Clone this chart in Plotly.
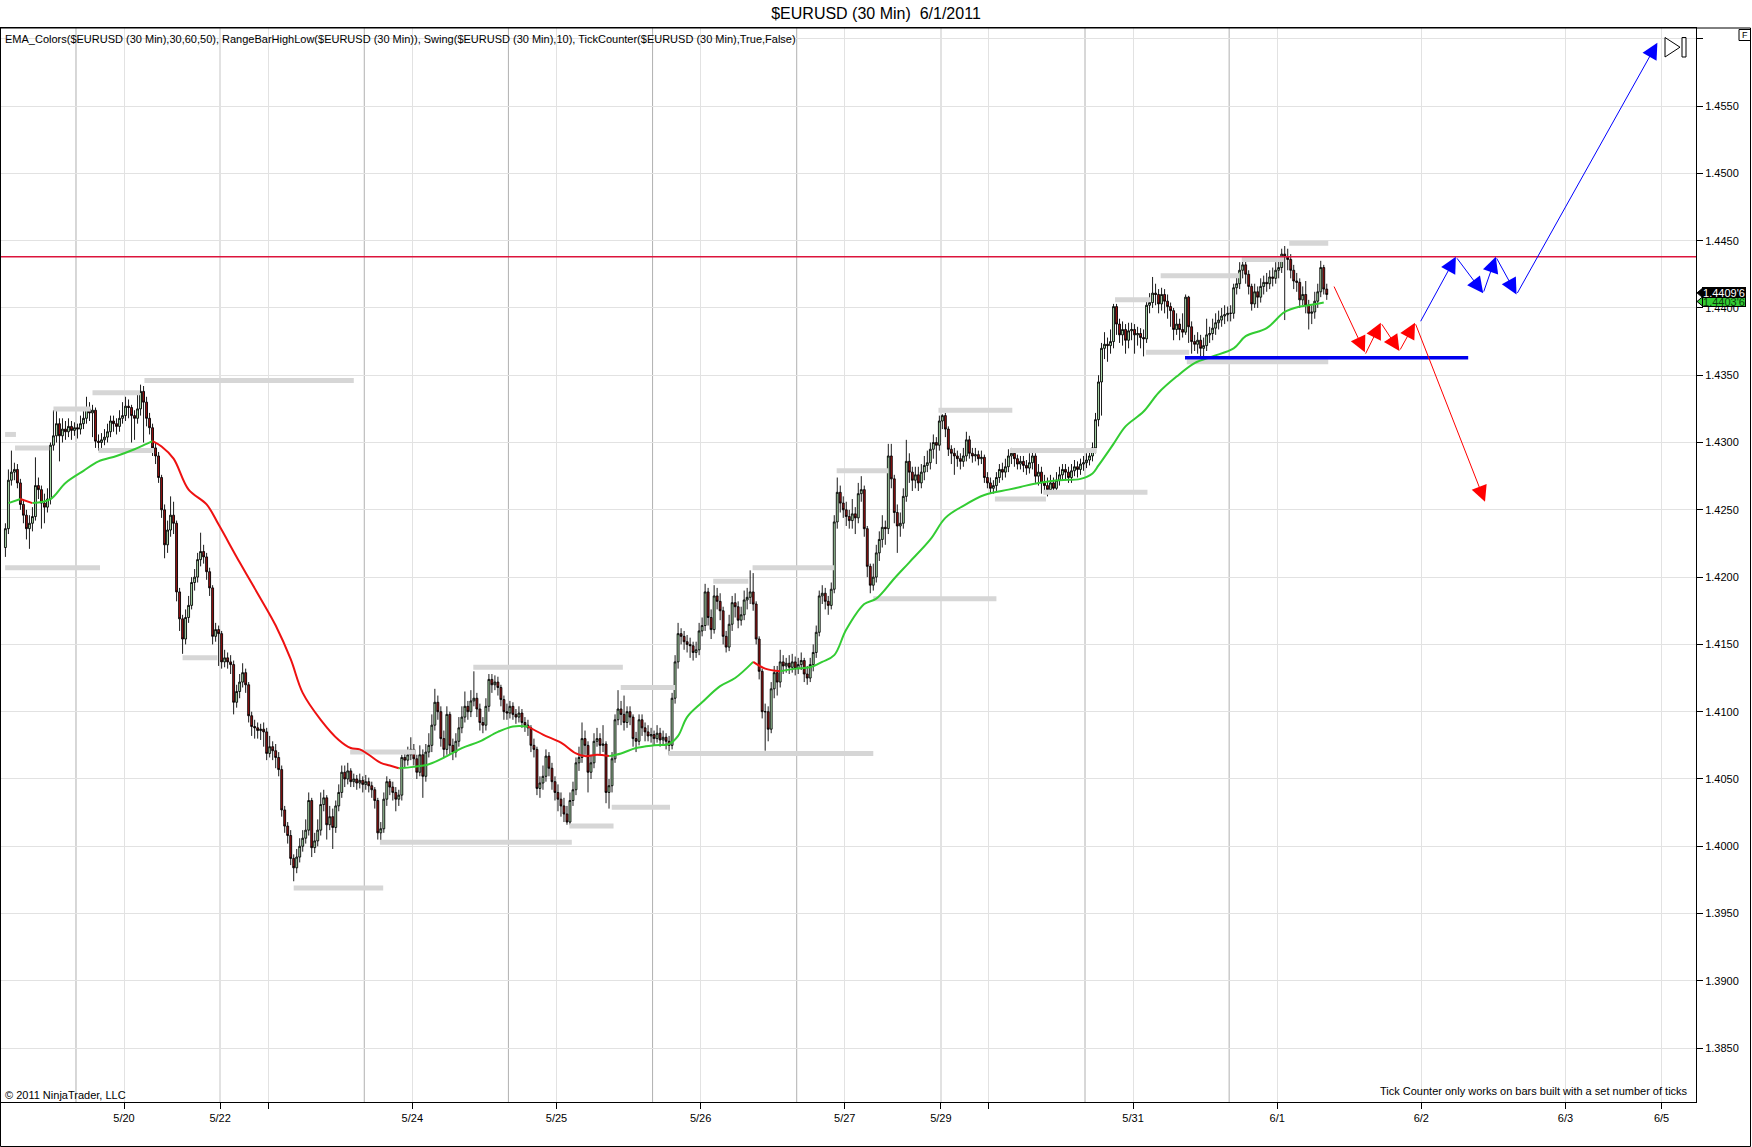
import plotly.graph_objects as go

W, H = 1752, 1147
ML, MR, MT, MB = 1, 56, 28, 45
PW, PH = W - ML - MR, H - MT - MB
FONT = 'Arial, Liberation Sans, sans-serif'


def px(x):
    # page pixel -> paper x
    return (x - ML) / PW


def py(y):
    # page pixel -> paper y
    return (H - MB - y) / PH


# 30 minute bars, bar 0 = 5/19 05:00, weekends removed (NinjaTrader bar spacing)
first_open = 1.4222
closes = [
    1.4236, 1.4272, 1.4278, 1.4280, 1.4270, 1.4254, 1.4246, 1.4236, 1.4240, 1.4245, 1.4268, 1.4265,
    1.4255, 1.4252, 1.4258, 1.4298, 1.4305, 1.4314, 1.4305, 1.4310, 1.4308, 1.4312, 1.4309, 1.4311,
    1.4310, 1.4314, 1.4318, 1.4325, 1.4322, 1.4324, 1.4301, 1.4300, 1.4302, 1.4304, 1.4308, 1.4316,
    1.4314, 1.4312, 1.4318, 1.4320, 1.4327, 1.4326, 1.4320, 1.4318, 1.4325, 1.4338, 1.4330, 1.4318,
    1.4311, 1.4296, 1.4290, 1.4274, 1.4250, 1.4224, 1.4235, 1.4246, 1.4240, 1.4189, 1.4169, 1.4154,
    1.4170, 1.4179, 1.4196, 1.4200, 1.4213, 1.4219, 1.4215, 1.4204, 1.4192, 1.4156, 1.4161, 1.4158,
    1.4137, 1.4140, 1.4137, 1.4135, 1.4107, 1.4115, 1.4122, 1.4129, 1.4120, 1.4097, 1.4089, 1.4088,
    1.4086, 1.4087, 1.4085, 1.4069, 1.4074, 1.4071, 1.4066, 1.4057, 1.4027, 1.4015, 1.4008, 1.3991,
    1.3984, 1.3992, 1.4000, 1.4006, 1.4012, 1.4034, 1.3999, 1.4004, 1.4012, 1.4031, 1.4036, 1.4016,
    1.4022, 1.4014, 1.4030, 1.4040, 1.4055, 1.4050, 1.4056, 1.4048, 1.4050, 1.4047, 1.4049, 1.4046,
    1.4048, 1.4045, 1.4042, 1.4034, 1.4010, 1.4013, 1.4035, 1.4048, 1.4044, 1.4040, 1.4035, 1.4038,
    1.4066, 1.4064, 1.4068, 1.4072, 1.4065, 1.4055, 1.4068, 1.4052, 1.4070, 1.4075, 1.4090, 1.4107,
    1.4100, 1.4080, 1.4072, 1.4098, 1.4075, 1.4070, 1.4078, 1.4088, 1.4096, 1.4104, 1.4100, 1.4108,
    1.4110, 1.4102, 1.4092, 1.4090, 1.4104, 1.4124, 1.4120, 1.4122, 1.4118, 1.4109, 1.4100, 1.4099,
    1.4104, 1.4098, 1.4096, 1.4099, 1.4092, 1.4090, 1.4088, 1.4075, 1.4072, 1.4043, 1.4047, 1.4052,
    1.4067, 1.4058, 1.4048, 1.4040, 1.4035, 1.4030, 1.4024, 1.4018, 1.4034, 1.4042, 1.4062, 1.4066,
    1.4080, 1.4075, 1.4055, 1.4062, 1.4078, 1.4080, 1.4075, 1.4076, 1.4040, 1.4045, 1.4065, 1.4094,
    1.4102, 1.4098, 1.4092, 1.4100, 1.4096, 1.4080, 1.4078, 1.4094, 1.4088, 1.4085, 1.4082, 1.4083,
    1.4080, 1.4084, 1.4079, 1.4081, 1.4078, 1.4075, 1.4110, 1.4137, 1.4158, 1.4156, 1.4152, 1.4150,
    1.4149, 1.4144, 1.4146, 1.4160, 1.4164, 1.4189, 1.4170, 1.4161, 1.4186, 1.4182, 1.4175, 1.4156,
    1.4148, 1.4165, 1.4181, 1.4178, 1.4168, 1.4172, 1.4183, 1.4185, 1.4189, 1.4180, 1.4154, 1.4130,
    1.4100, 1.4100, 1.4087, 1.4117, 1.4129, 1.4122, 1.4137, 1.4134, 1.4136, 1.4133, 1.4137, 1.4132,
    1.4135, 1.4138, 1.4128, 1.4125, 1.4135, 1.4144, 1.4159, 1.4186, 1.4188, 1.4182, 1.4179, 1.4191,
    1.4241, 1.4263, 1.4255, 1.4250, 1.4245, 1.4242, 1.4247, 1.4244, 1.4262, 1.4265, 1.4236, 1.4208,
    1.4194, 1.4200, 1.4218, 1.4228, 1.4237, 1.4236, 1.4290, 1.4273, 1.4248, 1.4238, 1.4240, 1.4260,
    1.4286, 1.4278, 1.4272, 1.4276, 1.4270, 1.4278, 1.4283, 1.4285, 1.4295, 1.4300, 1.4298, 1.4316,
    1.4320, 1.4310, 1.4295, 1.4292, 1.4290, 1.4288, 1.4286, 1.4290, 1.4302, 1.4292, 1.4290, 1.4291,
    1.4288, 1.4289, 1.4274, 1.4270, 1.4266, 1.4268, 1.4274, 1.4280, 1.4278, 1.4282, 1.4290, 1.4292,
    1.4288, 1.4284, 1.4286, 1.4283, 1.4281, 1.4285, 1.4290, 1.4275, 1.4278, 1.4270, 1.4268, 1.4265,
    1.4270, 1.4266, 1.4272, 1.4276, 1.4280, 1.4278, 1.4274, 1.4279, 1.4282, 1.4280, 1.4284, 1.4285,
    1.4287, 1.4290, 1.4296, 1.4317, 1.4345, 1.4370, 1.4373, 1.4372, 1.4375, 1.4401, 1.4388, 1.4380,
    1.4384, 1.4376, 1.4383, 1.4384, 1.4380, 1.4381, 1.4378, 1.4377, 1.4402, 1.4404, 1.4411, 1.4410,
    1.4403, 1.4410, 1.4405, 1.4401, 1.4398, 1.4384, 1.4388, 1.4384, 1.4382, 1.4408, 1.4386, 1.4375,
    1.4373, 1.4376, 1.4370, 1.4372, 1.4380, 1.4381, 1.4385, 1.4389, 1.4391, 1.4394, 1.4395, 1.4396,
    1.4396, 1.4415, 1.4418, 1.4428, 1.4432, 1.4425, 1.4416, 1.4403, 1.4412, 1.4408, 1.4416, 1.4419,
    1.4418, 1.4423, 1.4422, 1.4428, 1.4430, 1.4440, 1.4438, 1.4436, 1.4428, 1.4420, 1.4419, 1.4406,
    1.4410, 1.4402, 1.4396, 1.4397, 1.4405, 1.4412, 1.4430, 1.4414, 1.4410,
]
highs = [
    1.4240, 1.4280, 1.4294, 1.4285, 1.4284, 1.4273, 1.4258, 1.4250, 1.4246, 1.4252, 1.4289, 1.4274,
    1.4268, 1.4262, 1.4266, 1.4300, 1.4324, 1.4324, 1.4318, 1.4318, 1.4316, 1.4318, 1.4316, 1.4315,
    1.4314, 1.4320, 1.4324, 1.4334, 1.4330, 1.4328, 1.4326, 1.4306, 1.4307, 1.4310, 1.4314, 1.4320,
    1.4320, 1.4318, 1.4324, 1.4330, 1.4334, 1.4332, 1.4328, 1.4324, 1.4336, 1.4343, 1.4342, 1.4334,
    1.4322, 1.4314, 1.4300, 1.4293, 1.4276, 1.4254, 1.4242, 1.4260, 1.4256, 1.4242, 1.4192, 1.4172,
    1.4176, 1.4186, 1.4200, 1.4206, 1.4218, 1.4233, 1.4224, 1.4218, 1.4207, 1.4194, 1.4166, 1.4164,
    1.4160, 1.4146, 1.4144, 1.4142, 1.4138, 1.4120, 1.4128, 1.4136, 1.4132, 1.4122, 1.4100, 1.4094,
    1.4092, 1.4091, 1.4092, 1.4088, 1.4082, 1.4078, 1.4076, 1.4070, 1.4060, 1.4030, 1.4018, 1.4012,
    1.3994, 1.3998, 1.4006, 1.4012, 1.4020, 1.4040, 1.4036, 1.4010, 1.4020, 1.4040, 1.4042, 1.4038,
    1.4030, 1.4028, 1.4034, 1.4046, 1.4060, 1.4060, 1.4062, 1.4058, 1.4054, 1.4053, 1.4054, 1.4052,
    1.4053, 1.4051, 1.4048, 1.4044, 1.4036, 1.4018, 1.4040, 1.4052, 1.4050, 1.4048, 1.4044, 1.4042,
    1.4068, 1.4070, 1.4074, 1.4081, 1.4076, 1.4068, 1.4075, 1.4072, 1.4076, 1.4084, 1.4098, 1.4117,
    1.4112, 1.4104, 1.4086, 1.4104, 1.4100, 1.4080, 1.4084, 1.4096, 1.4104, 1.4115, 1.4108, 1.4116,
    1.4130, 1.4114, 1.4106, 1.4096, 1.4110, 1.4128, 1.4128, 1.4127, 1.4126, 1.4120, 1.4112, 1.4106,
    1.4108, 1.4107, 1.4102, 1.4104, 1.4102, 1.4096, 1.4094, 1.4090, 1.4080, 1.4074, 1.4052, 1.4060,
    1.4072, 1.4070, 1.4062, 1.4052, 1.4046, 1.4040, 1.4036, 1.4030, 1.4040, 1.4048, 1.4066, 1.4074,
    1.4092, 1.4086, 1.4078, 1.4068, 1.4084, 1.4088, 1.4084, 1.4090, 1.4078, 1.4050, 1.4070, 1.4098,
    1.4116, 1.4108, 1.4112, 1.4104, 1.4104, 1.4098, 1.4085, 1.4098, 1.4098, 1.4092, 1.4090, 1.4088,
    1.4086, 1.4090, 1.4088, 1.4086, 1.4084, 1.4082, 1.4114, 1.4142, 1.4166, 1.4162, 1.4160, 1.4157,
    1.4155, 1.4152, 1.4152, 1.4166, 1.4170, 1.4195, 1.4192, 1.4176, 1.4194, 1.4192, 1.4188, 1.4178,
    1.4160, 1.4172, 1.4186, 1.4188, 1.4182, 1.4178, 1.4190, 1.4192, 1.4205, 1.4203, 1.4182, 1.4156,
    1.4132, 1.4106, 1.4104, 1.4122, 1.4134, 1.4134, 1.4146, 1.4142, 1.4140, 1.4142, 1.4143, 1.4141,
    1.4140, 1.4144, 1.4140, 1.4134, 1.4140, 1.4150, 1.4164, 1.4190, 1.4194, 1.4192, 1.4186, 1.4196,
    1.4246, 1.4274, 1.4268, 1.4260, 1.4256, 1.4250, 1.4258, 1.4252, 1.4270, 1.4275, 1.4268, 1.4238,
    1.4210, 1.4210, 1.4224, 1.4234, 1.4246, 1.4242, 1.4299, 1.4299, 1.4276, 1.4254, 1.4248, 1.4266,
    1.4302, 1.4292, 1.4282, 1.4282, 1.4282, 1.4284, 1.4290, 1.4294, 1.4300, 1.4306, 1.4304, 1.4320,
    1.4321, 1.4322, 1.4312, 1.4298, 1.4296, 1.4294, 1.4292, 1.4296, 1.4308, 1.4305, 1.4296, 1.4296,
    1.4294, 1.4294, 1.4291, 1.4278, 1.4274, 1.4272, 1.4278, 1.4284, 1.4285, 1.4288, 1.4295, 1.4296,
    1.4294, 1.4291, 1.4290, 1.4290, 1.4287, 1.4292, 1.4294, 1.4292, 1.4284, 1.4282, 1.4276, 1.4274,
    1.4276, 1.4274, 1.4278, 1.4282, 1.4284, 1.4284, 1.4282, 1.4284, 1.4287, 1.4286, 1.4288, 1.4290,
    1.4292, 1.4294, 1.4300, 1.4322, 1.4350, 1.4374, 1.4382, 1.4378, 1.4384, 1.4403, 1.4403, 1.4392,
    1.4390, 1.4388, 1.4389, 1.4389, 1.4388, 1.4386, 1.4385, 1.4384, 1.4406, 1.4411, 1.4423, 1.4418,
    1.4414, 1.4415, 1.4414, 1.4410, 1.4404, 1.4400, 1.4396, 1.4392, 1.4396, 1.4410, 1.4409, 1.4390,
    1.4380, 1.4382, 1.4380, 1.4378, 1.4392, 1.4386, 1.4392, 1.4396, 1.4398, 1.4400, 1.4402, 1.4401,
    1.4402, 1.4418, 1.4424, 1.4434, 1.4436, 1.4436, 1.4428, 1.4418, 1.4418, 1.4416, 1.4422, 1.4424,
    1.4426, 1.4428, 1.4430, 1.4434, 1.4436, 1.4444, 1.4446, 1.4444, 1.4440, 1.4432, 1.4426, 1.4422,
    1.4416, 1.4420, 1.4406, 1.4402, 1.4412, 1.4418, 1.4435, 1.4432, 1.4418,
]
lows = [
    1.4215, 1.4232, 1.4268, 1.4272, 1.4266, 1.4250, 1.4240, 1.4228, 1.4221, 1.4234, 1.4242, 1.4258,
    1.4236, 1.4240, 1.4248, 1.4254, 1.4294, 1.4300, 1.4286, 1.4300, 1.4302, 1.4304, 1.4302, 1.4305,
    1.4303, 1.4306, 1.4310, 1.4314, 1.4316, 1.4304, 1.4296, 1.4294, 1.4296, 1.4298, 1.4300, 1.4304,
    1.4308, 1.4306, 1.4308, 1.4314, 1.4316, 1.4318, 1.4300, 1.4302, 1.4314, 1.4320, 1.4300, 1.4312,
    1.4306, 1.4290, 1.4284, 1.4270, 1.4244, 1.4214, 1.4218, 1.4230, 1.4232, 1.4182, 1.4160, 1.4143,
    1.4150, 1.4166, 1.4176, 1.4190, 1.4196, 1.4208, 1.4210, 1.4198, 1.4186, 1.4150, 1.4152, 1.4134,
    1.4132, 1.4133, 1.4132, 1.4128, 1.4098, 1.4103, 1.4110, 1.4118, 1.4114, 1.4092, 1.4082, 1.4080,
    1.4080, 1.4079, 1.4074, 1.4064, 1.4066, 1.4064, 1.4058, 1.4052, 1.4022, 1.4010, 1.4002, 1.3986,
    1.3974, 1.3980, 1.3988, 1.3996, 1.4002, 1.4008, 1.3992, 1.3995, 1.4000, 1.4008, 1.4026, 1.4005,
    1.4012, 1.3998, 1.4010, 1.4026, 1.4036, 1.4044, 1.4046, 1.4044, 1.4044, 1.4042, 1.4043, 1.4040,
    1.4042, 1.4040, 1.4036, 1.4028, 1.4005, 1.4004, 1.4010, 1.4030, 1.4038, 1.4034, 1.4026, 1.4030,
    1.4034, 1.4058, 1.4060, 1.4064, 1.4060, 1.4050, 1.4052, 1.4036, 1.4048, 1.4066, 1.4070, 1.4086,
    1.4094, 1.4074, 1.4066, 1.4068, 1.4068, 1.4064, 1.4066, 1.4074, 1.4084, 1.4092, 1.4094, 1.4096,
    1.4104, 1.4096, 1.4086, 1.4084, 1.4086, 1.4100, 1.4114, 1.4116, 1.4112, 1.4104, 1.4094, 1.4094,
    1.4095, 1.4094, 1.4091, 1.4092, 1.4088, 1.4085, 1.4082, 1.4070, 1.4066, 1.4038, 1.4036, 1.4042,
    1.4048, 1.4052, 1.4042, 1.4034, 1.4026, 1.4022, 1.4018, 1.4016, 1.4016, 1.4030, 1.4038, 1.4056,
    1.4062, 1.4068, 1.4040, 1.4050, 1.4058, 1.4074, 1.4068, 1.4070, 1.4032, 1.4028, 1.4040, 1.4062,
    1.4090, 1.4090, 1.4086, 1.4088, 1.4090, 1.4074, 1.4070, 1.4075, 1.4082, 1.4078, 1.4078, 1.4077,
    1.4075, 1.4077, 1.4074, 1.4075, 1.4072, 1.4068, 1.4072, 1.4106, 1.4132, 1.4150, 1.4146, 1.4144,
    1.4140, 1.4138, 1.4140, 1.4142, 1.4156, 1.4160, 1.4164, 1.4154, 1.4158, 1.4176, 1.4168, 1.4150,
    1.4144, 1.4145, 1.4160, 1.4170, 1.4162, 1.4164, 1.4168, 1.4176, 1.4180, 1.4175, 1.4150, 1.4124,
    1.4095, 1.4071, 1.4078, 1.4084, 1.4110, 1.4112, 1.4118, 1.4128, 1.4129, 1.4128, 1.4129, 1.4127,
    1.4128, 1.4131, 1.4122, 1.4120, 1.4122, 1.4130, 1.4140, 1.4156, 1.4180, 1.4176, 1.4172, 1.4176,
    1.4188, 1.4236, 1.4248, 1.4244, 1.4238, 1.4236, 1.4236, 1.4232, 1.4240, 1.4256, 1.4230, 1.4200,
    1.4188, 1.4190, 1.4196, 1.4212, 1.4222, 1.4224, 1.4232, 1.4266, 1.4240, 1.4218, 1.4230, 1.4236,
    1.4256, 1.4270, 1.4264, 1.4266, 1.4264, 1.4266, 1.4272, 1.4278, 1.4280, 1.4288, 1.4284, 1.4294,
    1.4310, 1.4304, 1.4290, 1.4284, 1.4276, 1.4282, 1.4280, 1.4282, 1.4286, 1.4288, 1.4285, 1.4286,
    1.4283, 1.4284, 1.4270, 1.4266, 1.4262, 1.4262, 1.4264, 1.4270, 1.4272, 1.4274, 1.4278, 1.4284,
    1.4282, 1.4280, 1.4280, 1.4278, 1.4276, 1.4277, 1.4280, 1.4270, 1.4268, 1.4262, 1.4264, 1.4260,
    1.4262, 1.4262, 1.4263, 1.4268, 1.4272, 1.4272, 1.4270, 1.4270, 1.4275, 1.4274, 1.4276, 1.4279,
    1.4281, 1.4283, 1.4286, 1.4292, 1.4312, 1.4320, 1.4362, 1.4360, 1.4366, 1.4370, 1.4380, 1.4374,
    1.4372, 1.4366, 1.4370, 1.4376, 1.4366, 1.4372, 1.4370, 1.4364, 1.4374, 1.4396, 1.4400, 1.4402,
    1.4396, 1.4398, 1.4396, 1.4392, 1.4386, 1.4376, 1.4380, 1.4376, 1.4378, 1.4380, 1.4374, 1.4366,
    1.4368, 1.4366, 1.4364, 1.4363, 1.4368, 1.4374, 1.4376, 1.4380, 1.4384, 1.4386, 1.4388, 1.4390,
    1.4390, 1.4392, 1.4410, 1.4414, 1.4422, 1.4418, 1.4410, 1.4398, 1.4400, 1.4400, 1.4404, 1.4410,
    1.4412, 1.4414, 1.4416, 1.4418, 1.4422, 1.4426, 1.4391, 1.4428, 1.4422, 1.4414, 1.4412, 1.4400,
    1.4402, 1.4396, 1.4384, 1.4388, 1.4392, 1.4400, 1.4408, 1.4410, 1.4406,
]
assert len(closes) == len(highs) == len(lows)

# EMA_Colors line, read at sample bars
ema_bar = [1, 5, 9, 15, 20, 26, 31, 37, 43, 47, 49, 52, 56, 61, 67, 71, 78, 85, 90, 95, 99,
           105, 111, 115, 118, 121, 125, 128, 131, 136, 141, 147, 152, 158, 164, 169, 174,
           179, 185, 190, 193, 197, 201, 205, 210, 216, 221, 224, 227, 232, 238, 243, 249,
           253, 258, 263, 268, 272, 276, 280, 286, 290, 296, 301, 308, 313, 319, 326, 334,
           338, 344, 351, 358, 362, 364, 369, 373, 379, 384, 390, 396, 402, 409, 413, 420,
           426, 431, 434, 439]
ema_val = [1.4255, 1.4258, 1.4255, 1.4258, 1.4270, 1.4279, 1.4286, 1.4290, 1.4295, 1.4299,
           1.4301, 1.4297, 1.4288, 1.4265, 1.4254, 1.4239, 1.4211, 1.4184, 1.4164, 1.4139,
           1.4114, 1.4094, 1.4079, 1.4073, 1.4072, 1.4068, 1.4062, 1.4060, 1.4058, 1.4059,
           1.4061, 1.4067, 1.4073, 1.4078, 1.4085, 1.4089, 1.4089, 1.4083, 1.4077, 1.4069,
           1.4067, 1.4068, 1.4067, 1.4069, 1.4073, 1.4075, 1.4076, 1.4082, 1.4096, 1.4107,
           1.4119, 1.4125, 1.4137, 1.4132, 1.4130, 1.4132, 1.4133, 1.4137, 1.4142, 1.4161,
           1.4180, 1.4184, 1.4199, 1.4211, 1.4228, 1.4244, 1.4253, 1.4261, 1.4265, 1.4267,
           1.4270, 1.4272, 1.4273, 1.4277, 1.4283, 1.4299, 1.4312, 1.4323, 1.4337, 1.4349,
           1.4359, 1.4364, 1.4370, 1.4379, 1.4385, 1.4397, 1.4401, 1.4402, 1.4404]
ema_red_spans = [(5, 9), (49, 131), (174, 201), (249, 258)]

# RangeBarHighLow / Swing levels: (start bar, end bar, price)
swing_levels = [
    (-0.1, 3.5, 1.4306), (3.2, 14.6, 1.4296), (16, 28.4, 1.4325), (29, 44.8, 1.4337),
    (31, 49.3, 1.4294), (46.3, 116, 1.4346), (-0.1, 31.5, 1.4207), (59, 70.6, 1.4140),
    (96, 125.8, 1.3969), (114.8, 136.4, 1.4070), (124.7, 188.6, 1.4003), (155.8, 205.6, 1.4133),
    (187.8, 202.5, 1.4015), (201.9, 221.3, 1.4029), (204.9, 223, 1.4118), (220.8, 289, 1.4069),
    (235.7, 247.4, 1.4197), (248.8, 275.9, 1.4207), (276.8, 294, 1.4279), (289, 330, 1.4184),
    (310.7, 335.3, 1.4324), (329.5, 346.5, 1.4258), (334.5, 363.4, 1.4294), (345.6, 380.3, 1.4263),
    (369.5, 381.2, 1.4406), (379.8, 394.2, 1.4367), (384.7, 410.9, 1.4424), (393.4, 440.5, 1.4360),
    (411.7, 425.6, 1.4436), (427.5, 440.5, 1.4448),
]

resistance = 1.4438
support = 1.4363
support_span = (392.8, 487.1)

# drawn arrows: (tail bar, tail price, head bar, head price)
red_arrows = [(442.2, 1.4417, 452.7, 1.4367), (452.7, 1.4365, 458.0, 1.4389),
              (458.0, 1.4389, 464.2, 1.4368), (464.2, 1.4368, 469.4, 1.4389),
              (469.4, 1.4389, 492.7, 1.4256)]
blue_arrows = [(471.0, 1.4389, 483.0, 1.4438), (483.0, 1.4438, 492.1, 1.4411),
               (492.1, 1.4411, 496.3, 1.4438), (496.3, 1.4438, 503.2, 1.4410),
               (503.2, 1.4410, 550.1, 1.4597)]

last_price, last_text = 1.44112, "1.4409'6"
ema_last, ema_text = 1.44048, "1.4403'6"

date_ticks = [39.5, 71.5, 87.5, 135.5, 183.5, 231.5, 279.5, 311.5, 327.5, 375.5, 423.5, 471.5, 519.5, 551.5]
date_labels = ['5/20', '5/22', '', '5/24', '5/25', '5/26', '5/27', '5/29', '', '5/31', '6/1', '6/2', '6/3', '6/5']
session_breaks = [23.5, 71.5, 119.5, 167.5, 215.5, 263.5, 311.5, 359.5, 407.5]
price_ticks = [1.3850, 1.3900, 1.3950, 1.4000, 1.4050, 1.4100, 1.4150, 1.4200, 1.4250,
               1.4300, 1.4350, 1.4400, 1.4450, 1.4500, 1.4550, 1.4600]

opens = [first_open] + closes[:-1]
bars = list(range(len(closes)))
highs = [max(h, o, c) for h, o, c in zip(highs, opens, closes)]
lows = [min(l, o, c) for l, o, c in zip(lows, opens, closes)]

fig = go.Figure()

sx, sy = [], []
for a, b, p in swing_levels:
    sx += [a, b, None]
    sy += [p, p, None]
fig.add_trace(go.Scatter(x=sx, y=sy, mode='lines', line=dict(color='#d6d6d6', width=5),
                         hoverinfo='skip'))

fig.add_trace(go.Candlestick(
    x=bars, open=opens, high=highs, low=lows, close=closes,
    increasing=dict(line=dict(color='black', width=0.9), fillcolor='#b4e6b4'),
    decreasing=dict(line=dict(color='black', width=0.9), fillcolor='#a01212'),
    whiskerwidth=0, hoverinfo='skip'))

# EMA split into rising (green) / falling (red) runs
runs = []
for k in range(len(ema_bar) - 1):
    mid = (ema_bar[k] + ema_bar[k + 1]) / 2
    colour = '#ee1111' if any(a <= mid <= b for a, b in ema_red_spans) else '#33cc33'
    if runs and runs[-1][0] == colour:
        runs[-1][1].append(k + 1)
    else:
        runs.append([colour, [k, k + 1]])
for colour, idx in runs:
    fig.add_trace(go.Scatter(x=[ema_bar[i] for i in idx], y=[ema_val[i] for i in idx],
                             mode='lines', line=dict(color=colour, width=2, shape='spline'),
                             hoverinfo='skip'))

fig.add_trace(go.Scatter(x=list(support_span), y=[support, support], mode='lines',
                         line=dict(color='#0000ee', width=3.5), hoverinfo='skip'))

shapes = []
for b in session_breaks:
    shapes.append(dict(type='line', xref='x', yref='paper', x0=b, x1=b, y0=0, y1=1,
                       layer='below', line=dict(color='#b0b0b0', width=1)))
shapes.append(dict(type='line', xref='paper', yref='y', x0=0, x1=1, y0=resistance, y1=resistance,
                   line=dict(color='#dc143c', width=1.6)))
# outer frame
shapes.append(dict(type='rect', xref='paper', yref='paper', x0=px(0.5), x1=px(1750.5),
                   y0=py(28), y1=py(1146.5), line=dict(color='black', width=1)))
# pointed ends of the price tags on the axis
tip = 'M1,0 L7,5 L7,-5 Z'
for price, fill in [(ema_last, '#33cc33'), (last_price, 'black')]:
    shapes.append(dict(type='path', xref='paper', yref='y', xsizemode='pixel', ysizemode='pixel',
                       xanchor=1, yanchor=price, path=tip, fillcolor=fill,
                       line=dict(color='black', width=1), layer='above'))
# "F" box and scroll-to-end button
shapes.append(dict(type='rect', xref='paper', yref='paper', x0=px(1739), x1=px(1750.5),
                   y0=py(40.5), y1=py(29.5), line=dict(color='black', width=1)))
shapes.append(dict(type='path', xref='paper', yref='paper',
                   path=f'M{px(1665)},{py(37.5)} L{px(1665)},{py(57)} L{px(1680)},{py(47.2)} Z',
                   line=dict(color='black', width=1)))
shapes.append(dict(type='rect', xref='paper', yref='paper', x0=px(1682), x1=px(1686),
                   y0=py(57), y1=py(37.5), line=dict(color='black', width=1)))

annotations = []
for arrows, colour in [(red_arrows, '#ff0000'), (blue_arrows, '#0000ff')]:
    for x0, y0, x1, y1 in arrows:
        annotations.append(dict(x=x1, y=y1, ax=x0, ay=y0, xref='x', yref='y', axref='x', ayref='y',
                                text='', showarrow=True, arrowhead=2, arrowsize=3.2,
                                arrowwidth=1, arrowcolor=colour))
# tag bodies: the last-price tag is drawn after (over) the EMA tag, as on the reference
for price, text, fill, ink in [(ema_last, ema_text, '#33cc33', '#0a3a0a'),
                               (last_price, last_text, 'black', 'white')]:
    annotations.append(dict(x=1, xshift=28, y=price, xref='paper', yref='y',
                            xanchor='center', yanchor='middle', text=text, showarrow=False,
                            bgcolor=fill, bordercolor='black', borderwidth=1, borderpad=0,
                            width=42, height=9,
                            font=dict(family=FONT, size=11, color=ink)))
annotations.append(dict(x=px(1745), y=py(35), xref='paper', yref='paper', text='F',
                        xanchor='center', yanchor='middle', showarrow=False,
                        font=dict(family=FONT, size=9, color='black')))
annotations.append(dict(x=px(3), y=py(39), xref='paper', yref='paper', xanchor='left', yanchor='middle',
                        text='EMA_Colors($EURUSD (30 Min),30,60,50), RangeBarHighLow($EURUSD (30 Min)), '
                             'Swing($EURUSD (30 Min),10), TickCounter($EURUSD (30 Min),True,False)',
                        showarrow=False, font=dict(family=FONT, size=11, color='black')))
annotations.append(dict(x=px(3), y=py(1095), xref='paper', yref='paper', xanchor='left', yanchor='middle',
                        text='© 2011 NinjaTrader, LLC', showarrow=False,
                        font=dict(family=FONT, size=11, color='black')))
annotations.append(dict(x=px(1690), y=py(1091), xref='paper', yref='paper', xanchor='right', yanchor='middle',
                        text='Tick Counter only works on bars built with a set number of ticks',
                        showarrow=False, font=dict(family=FONT, size=11, color='black')))

fig.update_layout(
    width=W, height=H, margin=dict(l=ML, r=MR, t=MT, b=MB),
    paper_bgcolor='white', plot_bgcolor='white', showlegend=False, hovermode=False,
    boxgap=0.1,
    title=dict(text='$EURUSD (30 Min)\u00a0 6/1/2011', x=0.5, xanchor='center',
               y=1 - 13 / H, yanchor='middle', font=dict(family=FONT, size=16, color='black')),
    shapes=shapes, annotations=annotations,
    font=dict(family=FONT, size=11, color='black'),
)
fig.update_xaxes(range=[-1.47, 562.96], tickvals=date_ticks, ticktext=date_labels,
                 ticks='outside', ticklen=6, tickcolor='black', showgrid=True, gridcolor='#e2e2e2',
                 showline=True, linecolor='black', mirror=True, zeroline=False,
                 rangeslider=dict(visible=False), tickfont=dict(size=11))
fig.update_yaxes(range=[1.3810, 1.4608], side='right', tickvals=price_ticks,
                 ticktext=['%.4f' % v if v < 1.4599 else '' for v in price_ticks],
                 ticks='outside', ticklen=6, tickcolor='black', showgrid=True, gridcolor='#e2e2e2',
                 showline=True, linecolor='black', mirror=True, zeroline=False,
                 tickfont=dict(size=11))

# the page's default 8px body margin would push the fixed-size chart off the window
fig.write_html('out.html', config={'displayModeBar': False},
               post_script="document.body.style.margin='0';")
